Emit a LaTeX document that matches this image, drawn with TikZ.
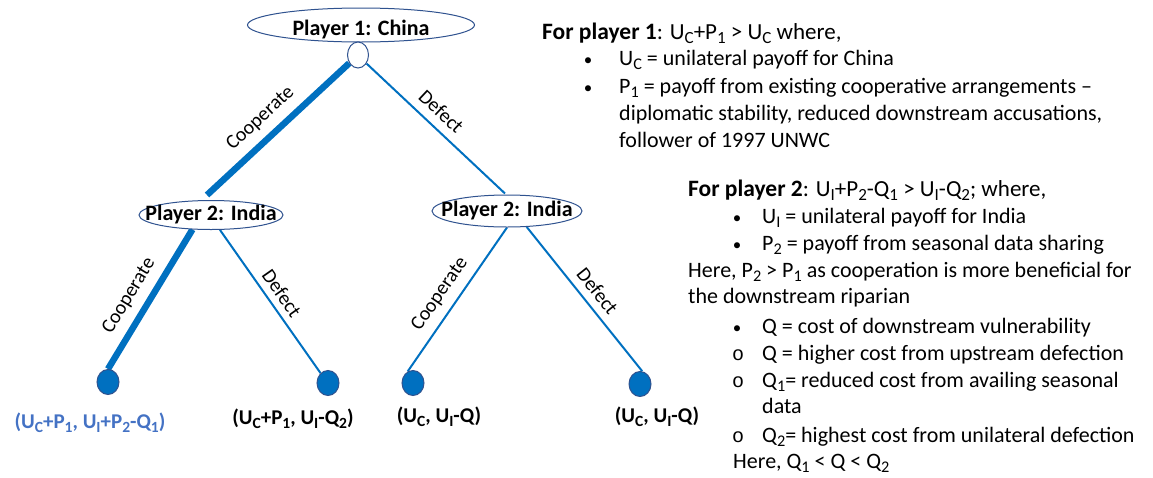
\documentclass[tikz,border=0pt]{standalone}
\usepackage{fontspec}
\setmainfont{Carlito}
\newfontfamily\monofnt{Liberation Mono}
\usetikzlibrary{shapes.geometric,calc}
\definecolor{lineblue}{HTML}{0070C0}
\definecolor{edgeblue}{HTML}{2F528F}
\definecolor{txtblue}{HTML}{4472C4}
\makeatletter
\newcommand\sbs[1]{\raisebox{-0.2em}{\fontsize{\fpeval{0.74*\f@size}}{0}\selectfont #1}}
\makeatother
\newcommand\hd[1]{{\fontsize{23.5}{27}\selectfont\bfseries #1}}
\pgfdeclarelayer{bg}
\pgfsetlayers{bg,main}
\begin{document}
\begin{tikzpicture}[x=1pt,y=-1pt,
 playernode/.style={ellipse, draw=edgeblue, line width=1pt, fill=white, inner sep=0pt, font=\fontsize{22}{27}\selectfont\bfseries},
 decnode/.style={ellipse, draw=edgeblue, line width=1pt, fill=white, minimum width=21pt, minimum height=26pt, inner sep=0pt},
 leafnode/.style={ellipse, draw=edgeblue, line width=1pt, fill=lineblue, minimum width=22pt, minimum height=25pt, inner sep=0pt},
 thickedge/.style={lineblue, line width=6.5pt},
 thinedge/.style={lineblue, line width=2pt},
 edgelabel/.style={sloped, font=\fontsize{20}{24}\selectfont, text=black},
 payoff/.style={anchor=base, font=\fontsize{21}{27}\selectfont\bfseries, inner sep=0pt},
 body/.style={anchor=base west, font=\fontsize{22}{27}\selectfont, inner sep=0pt},
 headline/.style={anchor=base west, font=\fontsize{23}{27}\selectfont, inner sep=0pt},
 bul/.style={anchor=base, font=\fontsize{17}{27}\selectfont, inner sep=0pt},
 obul/.style={anchor=base, font=\fontsize{20}{27}\selectfont\monofnt, inner sep=0pt},
]
\useasboundingbox (0,0) rectangle (1153,477);

% tree nodes
\node[playernode, minimum width=227pt, minimum height=34pt, text height=20pt, text depth=0pt] (p1) at (361,25) {\makebox[0pt]{Player 1: China}};
\node[decnode] (c0) at (358,55) {};
\node[playernode, minimum width=144pt, minimum height=29pt] (indL) at (211,215) {\makebox[0pt]{Player 2: India}};
\node[playernode, minimum width=150pt, minimum height=32pt] (indR) at (507,211) {\makebox[0pt]{Player 2: India}};
\node[leafnode] (l1) at (108,382) {};
\node[leafnode] (l2) at (328,383) {};
\node[leafnode] (l3) at (413,383) {};
\node[leafnode] (l4) at (640,384) {};

% edges
\begin{pgfonlayer}{bg}
\draw[thickedge] (c0.223) -- ($(indL.north)+(-4,-5)$) node[edgelabel, pos=0.53, above=5pt] {Cooperate};
\draw[thinedge] (c0.315) -- ($(indR.north)+(-2,-1)$) node[edgelabel, pos=0.46, above=5pt] {Defect};
\draw[thickedge] (indL.218) -- (l1.north) node[edgelabel, pos=0.55, above=5pt] {Cooperate};
\draw[thinedge] (indL.301) -- (l2.127) node[edgelabel, pos=0.5, above=3pt] {Defect};
\draw[thinedge] (indR.south) -- (l3.115) node[edgelabel, pos=0.53, above=5pt] {Cooperate};
\draw[thinedge] (indR.321) -- (l4.80) node[edgelabel, pos=0.51, above=4pt] {Defect};
\end{pgfonlayer}

% payoffs
\node[payoff, text=txtblue] (pay1) at (90,428) {(U\sbs{C}+P\sbs{1}, U\sbs{I}+P\sbs{2}-Q\sbs{1})};
\node[payoff] (pay2) at (293,424) {(U\sbs{C}+P\sbs{1}, U\sbs{I}-Q\sbs{2})};
\node[payoff] (pay3) at (439,422) {(U\sbs{C}, U\sbs{I}-Q)};
\node[payoff] (pay4) at (657,422) {(U\sbs{C}, U\sbs{I}-Q)};

% block 1
\node[headline] (t1a) at (542,39) {\hd{For player 1}: U\sbs{C}+P\sbs{1} > U\sbs{C} where,};
\node[bul] (b1a) at (588,65) {•};
\node[body] (t1b) at (619,65) {U\sbs{C} = unilateral payoff for China};
\node[bul] (b1b) at (588,93) {•};
\node[body] (t1c) at (619,93) {P\sbs{1} = payoff from existing cooperative arrangements –};
\node[body] (t1d) at (619,120) {diplomatic stability, reduced downstream accusations,};
\node[body] (t1e) at (619,147) {follower of 1997 UNWC};

% block 2
\node[headline] (t2a) at (688,196) {\hd{For player 2}: U\sbs{I}+P\sbs{2}-Q\sbs{1} > U\sbs{I}-Q\sbs{2}; where,};
\node[bul] (b2a) at (737,223) {•};
\node[body] (t2b) at (762,223) {U\sbs{I} = unilateral payoff for India};
\node[bul] (b2b) at (737,250) {•};
\node[body] (t2c) at (762,250) {P\sbs{2} = payoff from seasonal data sharing};
\node[body] (t2d) at (688,277) {Here, P\sbs{2} > P\sbs{1} as cooperation is more beneficial for};
\node[body] (t2e) at (688,303) {the downstream riparian};

% block 3
\node[bul] (b3a) at (737,333) {•};
\node[body] (t3a) at (762,333) {Q = cost of downstream vulnerability};
\node[obul] (b3b) at (738,360) {o};
\node[body] (t3b) at (762,360) {Q = higher cost from upstream defection};
\node[obul] (b3c) at (738,387) {o};
\node[body] (t3c) at (762,387) {Q\sbs{1}= reduced cost from availing seasonal};
\node[body] (t3d) at (762,413) {data};
\node[obul] (b3d) at (738,442) {o};
\node[body] (t3e) at (762,442) {Q\sbs{2}= highest cost from unilateral defection};
\node[body] (t3f) at (733,468) {Here, Q\sbs{1} < Q < Q\sbs{2}};
\end{tikzpicture}
\end{document}
